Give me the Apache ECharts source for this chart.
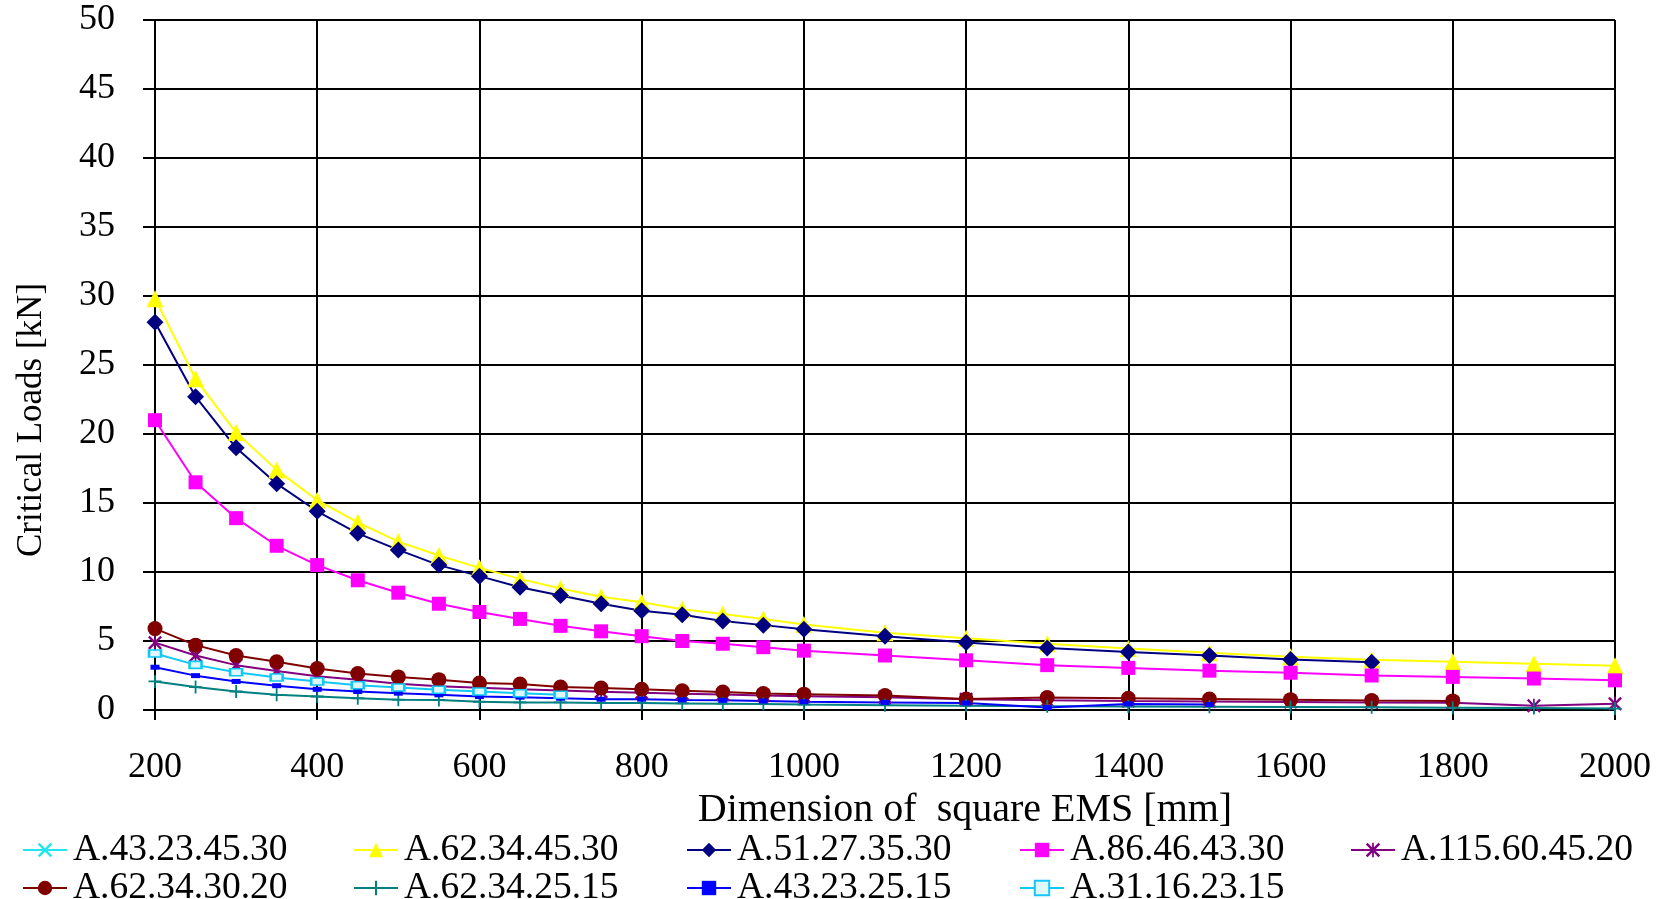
<!DOCTYPE html>
<html>
<head>
<meta charset="utf-8">
<script src="https://cdn.jsdelivr.net/npm/echarts@6/dist/echarts.min.js"></script>
<style>
html,body{margin:0;padding:0;background:#fff;}
#chart{width:1666px;height:899px;}
</style>
</head>
<body>
<div id="chart"></div>
<script>
// x positions (mm)
const xValues = [200,250,300,350,400,450,500,550,600,650,700,750,800,850,900,950,1000,1100,1200,1300,1400,1500,1600,1700,1800,1900,2000];

// series values (kN), in order of xValues; shorter arrays end earlier
const sA43234530 = [];
const sA62344530 = [29.8,24.0,20.1,17.4,15.2,13.6,12.2,11.2,10.3,9.5,8.8,8.2,7.8,7.3,6.95,6.6,6.2,5.6,5.2,4.8,4.45,4.15,3.85,3.65,3.5,3.35,3.2];
const sA51273530 = [28.1,22.7,19.0,16.4,14.4,12.8,11.6,10.5,9.7,8.9,8.3,7.7,7.2,6.9,6.45,6.15,5.85,5.35,4.9,4.5,4.2,3.95,3.66,3.46];
const sA86464330 = [21.0,16.5,13.9,11.9,10.5,9.4,8.5,7.7,7.1,6.6,6.1,5.7,5.35,5.0,4.8,4.55,4.3,3.95,3.6,3.25,3.05,2.85,2.7,2.5,2.4,2.28,2.15];
const sA115604520 = [4.88,3.95,3.25,2.83,2.45,2.2,1.9,1.72,1.62,1.5,1.42,1.32,1.25,1.18,1.12,1.05,1.0,0.92,0.78,0.7,0.65,0.62,0.58,0.55,0.52,0.3,0.45];
const sA62343020 = [5.9,4.7,3.95,3.5,3.0,2.65,2.4,2.2,1.95,1.88,1.66,1.59,1.5,1.4,1.3,1.2,1.15,1.05,0.8,0.9,0.85,0.8,0.75,0.68,0.66];
const sA62342515 = [2.07,1.66,1.34,1.1,0.98,0.85,0.75,0.73,0.6,0.55,0.55,0.5,0.5,0.48,0.46,0.44,0.4,0.35,0.3,0.28,0.26,0.24,0.22,0.2,0.17,0.14,0.1];
const sA43232515 = [3.1,2.49,2.07,1.76,1.5,1.34,1.22,1.1,0.98,0.93,0.85,0.78,0.78,0.73,0.7,0.65,0.6,0.55,0.5,0.18,0.44,0.4];
const sA31162315 = [4.1,3.27,2.73,2.36,2.07,1.8,1.63,1.46,1.34,1.22,1.1];

const seriesNames = ['A.43.23.45.30','A.62.34.45.30','A.51.27.35.30','A.86.46.43.30','A.115.60.45.20','A.62.34.30.20','A.62.34.25.15','A.43.23.25.15','A.31.16.23.15'];

const yTicks = {min:0,max:50,interval:5};
const xTicks = {min:200,max:2000,interval:200};

const FONT = 'Liberation Serif';
const pair = arr => arr.map((v,i)=>[xValues[i], v]);

const X_SYM = 'path://M0,1.2L1.2,0L5,3.8L8.8,0L10,1.2L6.2,5L10,8.8L8.8,10L5,6.2L1.2,10L0,8.8L3.8,5Z';
const AST_SYM = 'path://M0,1.2L1.2,0L5,3.8L8.8,0L10,1.2L6.2,5L10,8.8L8.8,10L5,6.2L1.2,10L0,8.8L3.8,5Z M4.4,0L5.6,0L5.6,10L4.4,10Z';
const PLUS_SYM = 'path://M4.3,0L5.7,0L5.7,4.3L10,4.3L10,5.7L5.7,5.7L5.7,10L4.3,10L4.3,5.7L0,5.7L0,4.3L4.3,4.3Z';

const styleMap = {
  'A.43.23.45.30': {color:'#22E5EE', symbol:X_SYM, size:12, data:sA43234530},
  'A.62.34.45.30': {color:'#FFFF00', symbol:'triangle', size:17, data:sA62344530},
  'A.51.27.35.30': {color:'#000080', symbol:'diamond', size:17, data:sA51273530},
  'A.86.46.43.30': {color:'#FF00FF', symbol:'rect', size:14, data:sA86464330},
  'A.115.60.45.20': {color:'#800080', symbol:AST_SYM, size:14, data:sA115604520},
  'A.62.34.30.20': {color:'#800000', symbol:'circle', size:15, data:sA62343020},
  'A.62.34.25.15': {color:'#008080', symbol:PLUS_SYM, size:13, data:sA62342515},
  'A.43.23.25.15': {color:'#0000FF', symbol:'rect', size:[9,5], data:sA43232515},
  'A.31.16.23.15': {color:'#11C8F5', symbol:'rect', size:[12,7], data:sA31162315, hollow:true}
};

const series = seriesNames.map(name => {
  const s = styleMap[name];
  return {
    name: name,
    type: 'line',
    data: pair(s.data),
    symbol: s.symbol,
    symbolSize: s.size,
    showAllSymbol: true,
    lineStyle: {color: s.color, width: 2},
    itemStyle: s.hollow ? {color:'#dff7ff', borderColor:s.color, borderWidth:2} : {color: s.color},
    emphasis: {disabled: true},
    animation: false
  };
});

const legendCols = [
  {left: 22, names: ['A.43.23.45.30','A.62.34.30.20']},
  {left: 353, names: ['A.62.34.45.30','A.62.34.25.15']},
  {left: 686, names: ['A.51.27.35.30','A.43.23.25.15']},
  {left: 1019, names: ['A.86.46.43.30','A.31.16.23.15']},
  {left: 1350, names: ['A.115.60.45.20']}
];

const legends = legendCols.map(c => ({
  orient: 'vertical',
  left: c.left,
  top: 831,
  height: 80,
  itemGap: 0,
  itemWidth: 44,
  itemHeight: 18,
  padding: 0,
  data: c.names,
  selectedMode: false,
  textStyle: {fontFamily: FONT, fontSize: 37.5, color: '#000', lineHeight: 35, padding: [0,0,0,1]}
}));

const chart = echarts.init(document.getElementById('chart'), null, {renderer: 'canvas'});
chart.setOption({
  animation: false,
  backgroundColor: '#fff',
  grid: {left: 155, right: 51, top: 20, bottom: 189, containLabel: false},
  legend: legends,
  xAxis: {
    type: 'value',
    min: xTicks.min, max: xTicks.max, interval: xTicks.interval,
    name: 'Dimension of  square EMS [mm]',
    nameLocation: 'middle',
    nameGap: 66,
    nameTextStyle: {fontFamily: FONT, fontSize: 40, color: '#000', padding: [0,0,0,160]},
    axisLine: {show: true, lineStyle: {color: '#000', width: 2}},
    axisTick: {show: true, length: 10, lineStyle: {color: '#000', width: 2}},
    axisLabel: {fontFamily: FONT, fontSize: 36, color: '#000', margin: 40, formatter: v => String(v)},
    splitLine: {show: true, lineStyle: {color: '#000', width: 2}}
  },
  yAxis: {
    type: 'value',
    min: yTicks.min, max: yTicks.max, interval: yTicks.interval,
    name: 'Critical Loads [kN]',
    nameLocation: 'middle',
    nameGap: 106,
    nameTextStyle: {fontFamily: FONT, fontSize: 35, color: '#000', padding: [0,110,0,0]},
    axisLine: {show: true, lineStyle: {color: '#000', width: 2}},
    axisTick: {show: true, length: 12, lineStyle: {color: '#000', width: 2}},
    axisLabel: {fontFamily: FONT, fontSize: 36, color: '#000', margin: 40, formatter: v => String(v)},
    splitLine: {show: true, lineStyle: {color: '#000', width: 2}}
  },
  series: series
});
</script>
</body>
</html>
